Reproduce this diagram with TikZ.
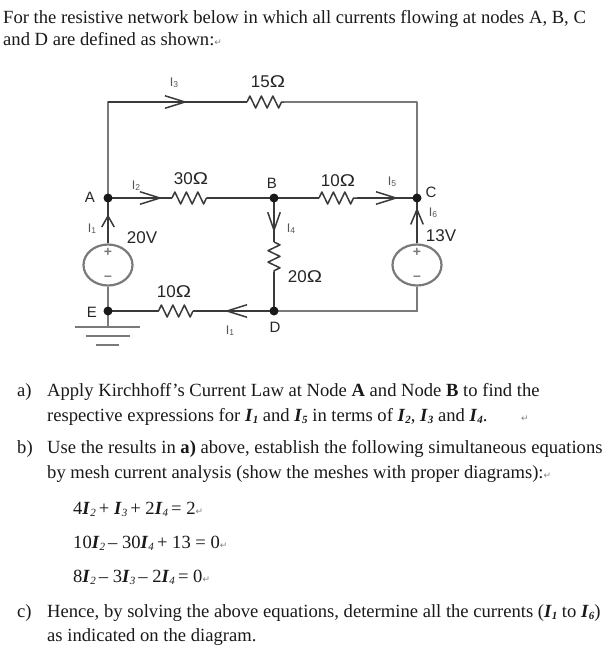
\documentclass[tikz,border=0pt]{standalone}
\usepackage{fontspec}
\setmainfont{Liberation Serif}
\newfontfamily\lab{Liberation Sans}
\newfontfamily\sym{DejaVu Sans}
\usetikzlibrary{arrows.meta,decorations.pathmorphing,shapes.geometric,backgrounds}
\definecolor{wiredark}{HTML}{3A3A3A}
\definecolor{wiregray}{HTML}{7A7A7A}
\definecolor{subgray}{HTML}{555555}
\newcommand{\cur}[1]{\textbf{\textit{I}}\raisebox{-0.12em}{\fontsize{11}{11}\selectfont\textbf{\textit{#1}}}}
\newcommand{\curl}[1]{\textbf{\textit{I}}\raisebox{-0.12em}{\fontsize{11}{11}\selectfont\textit{#1}}}
\newcommand{\ret}{{\sym\fontsize{9}{9}\selectfont\textcolor{gray}{↵}}}
\newcommand{\sub}[1]{I{\fontsize{8.5}{8.5}\selectfont\raisebox{-0.1em}{#1}}}
\newcommand{\Om}{\scalebox{1.2}[1]{Ω}}
\tikzset{
  wire/.style={draw=wiredark,line width=1.4pt},
  thick wire/.style={draw=wiregray,line width=2.2pt},
  barb/.style={-{Straight Barb[length=#1pt,width=12.5pt,line width=1.5pt]},draw=wiredark,line width=1.4pt,shorten >=-0.5pt},
  barb/.default=20,
  res/.style={draw=wiredark,line width=1.5pt,line join=round,decorate,decoration={zigzag,segment length=11.5pt,amplitude=6pt}},
  dot/.style={circle,fill=black!90,inner sep=0pt,minimum size=9pt},
  src/.style={ellipse,draw=wiregray,line width=2.2pt,inner sep=0pt,minimum width=49pt,minimum height=41pt},
  sign/.style={inner sep=0pt,text=wiregray,font=\lab\bfseries\fontsize{14}{14}\selectfont},
  para/.style={anchor=base west,inner sep=0pt,font=\fontsize{18.6}{20}\selectfont,text=black!90},
  clab/.style={inner sep=0pt,font=\lab\fontsize{12.5}{13}\selectfont,text=subgray},
  vlab/.style={inner sep=0pt,font=\lab\fontsize{17}{18}\selectfont,text=black!85},
  nlab/.style={inner sep=0pt,font=\lab\fontsize{15}{16}\selectfont,text=black!85},
}
\begin{document}
\begin{tikzpicture}[x=1pt,y=-1pt]
\useasboundingbox (0,0) rectangle (607,651);
% nodes
\node[dot] (A) at (108,198) {};
\node[dot] (B) at (274,198) {};
\node[dot] (C) at (417,198) {};
\node[dot] (D) at (274,311) {};
\node[dot] (E) at (108,311) {};
\coordinate (TL) at (108,102);
\coordinate (TR) at (417,102);
\coordinate (BR) at (417,311);
\node[src] (V1) at (108,265) {};
\node[src] (V2) at (417,265) {};
% resistor ends
\coordinate (r15a) at (247,102); \coordinate (r15b) at (284,102);
\coordinate (r30a) at (172,198); \coordinate (r30b) at (207,198);
\coordinate (r10a) at (319,198); \coordinate (r10b) at (357,198);
\coordinate (r11a) at (193,311); \coordinate (r11b) at (158,311);
\coordinate (r20a) at (274,242); \coordinate (r20b) at (274,272);
% arrow tips
\coordinate (t3) at (187,102);
\coordinate (t2) at (162,198);
\coordinate (t5) at (398,198);
\coordinate (t4) at (274,232);
\coordinate (t1) at (108,215);
\coordinate (t6) at (417,208);
\coordinate (t7) at (225,311);
\begin{scope}[on background layer]
% wires
\draw[thick wire,line cap=round] (A.center) -- (TL);
\draw[wire] (TL) -- (r15a);
\draw[barb] (TL) -- (t3);
\draw[res] (r15a) -- (r15b);
\draw[thick wire,line join=round] (r15b) -- (TR) -- (C.center);
\draw[wire] (A.center) -- (r30a);
\draw[barb] (A.center) -- (t2);
\draw[res] (r30a) -- (r30b);
\draw[wire] (r30b) -- (B.center);
\draw[wire] (B.center) -- (r10a);
\draw[res] (r10a) -- (r10b);
\draw[wire] (r10b) -- (C.center);
\draw[barb] (r10b) -- (t5);
\draw[wire] (B.center) -- (r20a);
\draw[barb=18] (B.center) -- (t4);
\draw[res] (r20a) -- (r20b);
\draw[wire,line width=1.7pt] (r20b) -- (D.center);
\draw[wire,line width=1.8pt] (V1.north) -- (A.center);
\draw[barb=11] (V1.north) -- (t1);
\draw[wire,line width=1.8pt] (V2.north) -- (C.center);
\draw[barb=15] (V2.north) -- (t6);
\draw[thick wire] (V1.south) -- (E.center);
\draw[thick wire,line join=miter] (V2.south) -- (BR) -- (D.center);
\draw[wire] (D.center) -- (r11a);
\draw[barb] (D.center) -- (t7);
\draw[res] (r11a) -- (r11b);
\draw[wire] (r11b) -- (E.center);
% ground
\coordinate (G1) at (108,327);
\coordinate (G1l) at (75,327); \coordinate (G1r) at (140,327);
\coordinate (G2l) at (86,336); \coordinate (G2r) at (130,336);
\coordinate (G3l) at (96,345); \coordinate (G3r) at (119,345);
\draw[thick wire] (E.center) -- (G1);
\draw[thick wire] (G1l) -- (G1r);
\draw[thick wire] (G2l) -- (G2r);
\draw[thick wire] (G3l) -- (G3r);
\end{scope}
% signs
\node[sign] (p1) at (108,252) {+};
\node[sign] (m1) at (108,278) {–};
\node[sign] (p2) at (417,252) {+};
\node[sign] (m2) at (417,278) {–};
% labels
\node[clab] (li3) at (174,83) {\sub{3}};
\node[vlab] (l15) at (268,82) {15\Om};
\node[clab] (li2) at (136,186) {\sub{2}};
\node[vlab] (l30) at (191,179) {30\Om};
\node[nlab] (lA) at (90,197) {A};
\node[nlab] (lB) at (272,183) {B};
\node[vlab] (l10a) at (338,181) {10\Om};
\node[clab] (li5) at (392,182) {\sub{5}};
\node[nlab] (lC) at (431,192) {C};
\node[clab] (li6) at (433,213) {\sub{6}};
\node[vlab] (l13) at (441,236) {13V};
\node[clab] (li4) at (291,229) {\sub{4}};
\node[clab] (li1) at (92,229) {\sub{1}};
\node[vlab] (l20v) at (142,238) {20V};
\node[vlab] (l20) at (305,277) {20\Om};
\node[vlab] (l10b) at (174,292) {10\Om};
\node[nlab] (lE) at (92,312) {E};
\node[clab] (li7) at (230,331) {\sub{1}};
\node[nlab] (lD) at (275,327) {D};
% text
\node[para] (t01) at (3,23) {For the resistive network below in which all currents flowing at nodes A, B, C};
\node[para] (t02) at (3,45) {and D are defined as shown:\ret};
\node[para] (ta0) at (17,396) {a)};
\node[para] (ta1) at (47,396) {Apply Kirchhoff’s Current Law at Node \textbf{A} and Node \textbf{B} to find the};
\node[para] (ta2) at (47,421) {respective expressions for \cur{1} and \cur{5} in terms of \cur{2}, \cur{3} and \cur{4}.};
\node[para] (ta3) at (521,421) {\ret};
\node[para] (tb0) at (17,453) {b)};
\node[para] (tb1) at (47,453) {Use the results in \textbf{a)} above, establish the following simultaneous equations};
\node[para] (tb2) at (47,478) {by mesh current analysis (show the meshes with proper diagrams):\ret};
\node[para] (te1) at (73,514) {4\curl{2}\,+ \curl{3}\,+ 2\curl{4}\,= 2\ret};
\node[para] (te2) at (73,548) {10\curl{2}\,– 30\curl{4}\,+ 13 = 0\ret};
\node[para] (te3) at (73,582) {8\curl{2}\,– 3\curl{3}\,– 2\curl{4}\,= 0\ret};
\node[para] (tc0) at (17,617) {c)};
\node[para] (tc1) at (47,617) {Hence, by solving the above equations, determine all the currents (\cur{1} to \cur{6})};
\node[para] (tc2) at (47,641) {as indicated on the diagram.};
\end{tikzpicture}
\end{document}
